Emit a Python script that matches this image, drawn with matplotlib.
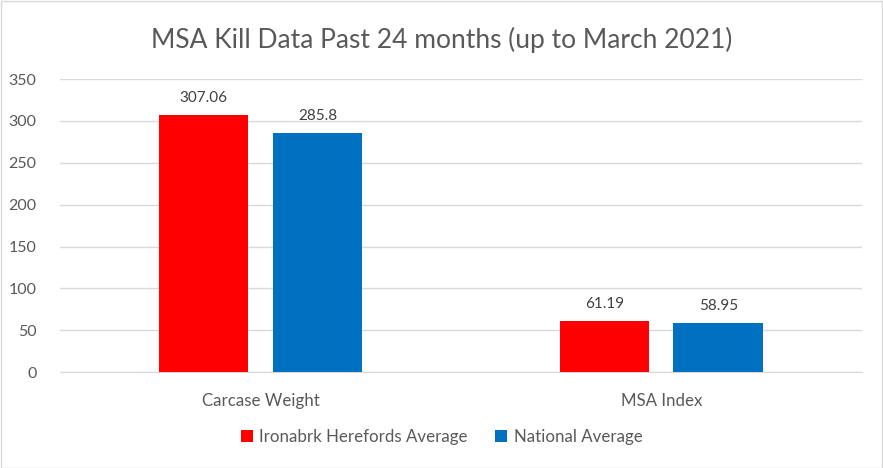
import matplotlib.pyplot as plt
import numpy as np

categories = ['Carcase Weight', 'MSA Index']
series_names = ['Ironabrk Herefords Average', 'National Average']
ironabrk = [307.06, 61.19]
national = [285.8, 58.95]
colors = ['#FF0000', '#0070C0']

plt.rcParams['font.family'] = ['Lato', 'DejaVu Sans']

fig = plt.figure(figsize=(8.83, 4.68), dpi=100)
ax = fig.add_axes([0.068, 0.205, 0.908, 0.626])

x = np.arange(len(categories))
w = 0.224
off = 0.142
for vals, name, c, sgn in zip([ironabrk, national], series_names, colors, [-1, 1]):
    bars = ax.bar(x + sgn * off, vals, w, color=c, label=name, zorder=3)
    for b, v in zip(bars, vals):
        ax.text(b.get_x() + b.get_width() / 2, v + 12, f'{v:g}',
                ha='center', va='bottom', fontsize=11, color='#404040')

ax.set_xlim(-0.5, 1.5)
ax.set_ylim(0, 350)
ax.set_yticks(range(0, 351, 50))
ax.yaxis.grid(True, color='#D9D9D9', lw=1, zorder=0)
for s in ['top', 'right', 'left']:
    ax.spines[s].set_visible(False)
ax.spines['bottom'].set_color('#D9D9D9')
ax.tick_params(axis='y', length=0, labelsize=11.5, labelcolor='#595959', pad=17)
ax.tick_params(axis='x', length=0, labelsize=12.2, labelcolor='#595959', pad=15)
ax.set_xticks(x)
ax.set_xticklabels(categories)

fig.text(0.5, 0.915, 'MSA Kill Data Past 24 months (up to March 2021)',
         ha='center', va='center', fontsize=19, color='#595959')

fig.legend(loc='center', bbox_to_anchor=(0.5, 0.066), ncol=2, frameon=False,
           fontsize=12.2, handlelength=0.7, handleheight=0.7, columnspacing=1.6,
           handletextpad=0.4, labelcolor='#595959')

fig.patches.append(plt.Rectangle((0.001, 0.001), 0.998, 0.997, transform=fig.transFigure,
                                 fill=False, edgecolor='#D9D9D9', lw=1))

fig.savefig('out.png', dpi=100)
